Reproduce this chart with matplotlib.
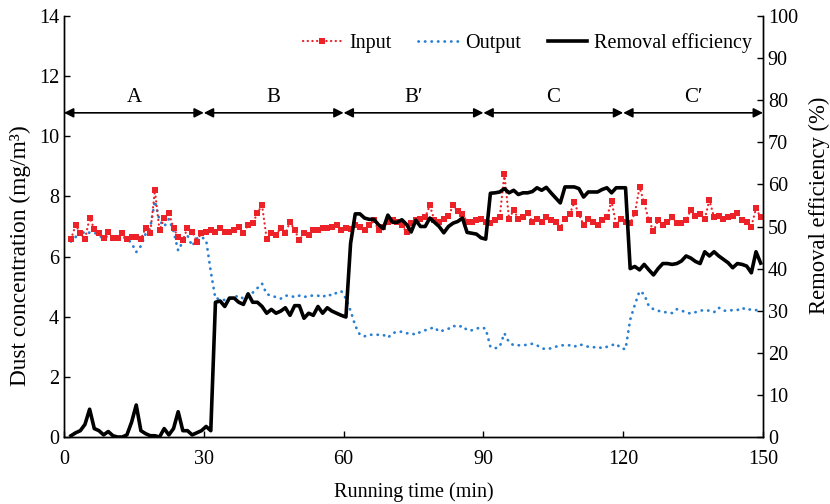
import numpy as np
import matplotlib
matplotlib.use("Agg")
import matplotlib.pyplot as plt
from matplotlib.lines import Line2D

plt.rcParams['font.family'] = ['Liberation Serif', 'DejaVu Serif']

# Running time (min)
time_min = np.arange(1.5, 150, 1.0)

input_conc = [
    6.58,
    7.05, 6.77, 6.58, 7.28, 6.92, 6.77, 6.62, 6.83, 6.62, 6.62, 6.77, 6.58, 6.65, 6.65, 6.58,
    6.95, 6.77, 8.2, 6.87, 7.28, 7.45, 6.95, 6.65, 6.55, 6.95, 6.83, 6.5, 6.8, 6.83,
    6.88, 6.83, 6.95, 6.83, 6.83, 6.88, 6.99, 6.77, 7.05, 7.1, 7.45, 7.71, 6.58, 6.77, 6.72,
    6.95, 6.77, 7.15, 6.88, 6.55, 6.77, 6.72, 6.88, 6.88, 6.95, 6.95, 6.99, 7.05, 6.88, 6.95,
    6.93, 7.04, 6.98, 6.88, 7.04, 7.2, 6.88, 6.98, 7.15, 7.2, 7.15, 7.04, 6.82, 7.1, 7.2,
    7.25, 7.3, 7.7, 7.2, 7.15, 7.25, 7.35, 7.7, 7.5, 7.43, 7.15, 7.15, 7.2, 7.25, 7.15,
    7.1, 7.2, 7.3, 8.75, 7.25, 7.55, 7.25, 7.3, 7.45, 7.15, 7.25, 7.15, 7.3, 7.2, 7.15,
    6.95, 7.25, 7.4, 7.8, 7.4, 7.05, 7.25, 7.15, 7.05, 7.2, 7.3, 7.85, 7.05, 7.25, 7.15,
    7.1, 7.45, 8.3, 7.8, 7.2, 6.85, 7.2, 7.05, 7.15, 7.3, 7.1, 7.1, 7.2, 7.55, 7.35,
    7.4, 7.25, 7.88, 7.3, 7.35, 7.25, 7.3, 7.35, 7.45, 7.2, 7.15, 7.0, 7.6, 7.3,
]

output_conc = [
    6.5, 6.65, 6.9, 6.75, 6.8, 6.8, 6.7, 6.6, 6.7, 6.6, 6.6, 6.65, 6.6, 6.45, 6.15,
    6.35, 6.75, 6.95, 7.85, 7.2, 7.0, 7.25, 6.85, 6.2, 6.5, 6.7, 6.35, 6.6, 6.65, 6.55,
    5.5, 4.6, 4.6, 4.55, 4.6, 4.65, 4.7, 4.6, 4.75, 4.8, 4.95, 5.1, 4.75, 4.7, 4.65,
    4.6, 4.7, 4.7, 4.65, 4.7, 4.65, 4.7, 4.7, 4.7, 4.65, 4.75, 4.7, 4.8, 4.85, 4.6,
    4.2, 3.7, 3.4, 3.35, 3.4, 3.4, 3.4, 3.4, 3.3, 3.45, 3.5, 3.5, 3.45, 3.45, 3.4,
    3.5, 3.55, 3.6, 3.65, 3.5, 3.55, 3.6, 3.7, 3.65, 3.7, 3.55, 3.55, 3.6, 3.65, 3.6,
    3.0, 2.95, 3.0, 3.45, 3.15, 3.05, 3.05, 3.05, 3.07, 3.1, 3.05, 2.95, 2.92, 2.95, 3.0,
    3.05, 3.05, 3.05, 3.0, 3.08, 3.05, 3.0, 2.98, 3.0, 2.95, 3.0, 3.05, 3.1, 2.95, 2.92,
    3.9, 4.4, 4.85, 4.75, 4.35, 4.25, 4.2, 4.15, 4.15, 4.12, 4.25, 4.2, 4.15, 4.1, 4.15,
    4.2, 4.22, 4.2, 4.15, 4.3, 4.2, 4.2, 4.22, 4.22, 4.3, 4.22, 4.25, 4.22, 4.22,
]

removal_eff = [
    0.3, 1, 1.5, 3, 6.6, 2, 1.5, 0.5, 1.3, 0.3, 0, 0, 0.5, 3.5, 7.6, 1.5,
    0.8, 0.3, 0.3, 0, 2, 0.5, 2, 6, 1.5, 1.5, 0.5, 1, 1.5, 2.5, 1.5,
    32, 32.3, 31, 33, 33, 32, 31.5, 34, 32, 32, 31, 29.4, 30.3, 29.4,
    29.9, 30.7, 28.9, 31.2, 31.2, 28.2, 29.4, 28.9, 31, 29.4, 30.7, 29.9, 29.4, 28.9, 28.5,
    46, 53, 53, 52, 51.7, 51.7, 50.4, 49.5, 52.7, 51, 51, 51.6, 50.5, 48.7, 51.5,
    50, 50, 52, 51, 50, 48.5, 50, 50.8, 51.2, 52, 48.6, 48.4, 48.2, 47.3, 47,
    57.9, 58, 58.2, 59, 58, 58.6, 57.6, 58, 58, 58.3, 59.2, 58.6, 59.3, 58, 56.8,
    55.6, 59.4, 59.4, 59.4, 59, 57, 58.2, 58.2, 58.2, 58.8, 59.2, 58, 59.2, 59.2, 59.2,
    40, 40.5, 39.7, 41, 39.7, 38.5, 40, 41.2, 41.2, 41, 41.2, 41.8, 43, 42.5, 41.7,
    41.2, 44, 43, 44, 43, 42.2, 41.4, 40.2, 41.2, 41, 40.6, 39, 44, 41.3,
]

stage_bounds = [0, 30, 60, 90, 120, 150]
stage_labels = ["A", "B", "B\u2032", "C", "C\u2032"]

RED = "#ec2228"
BLUE = "#2a7fd0"

fig = plt.figure(figsize=(8.3, 5.04), dpi=100)
ax = fig.add_axes([64 / 830, 1 - 437 / 504, (763 - 64) / 830, (437 - 16) / 504])
ax2 = ax.twinx()

ax.plot(time_min, input_conc, color=RED, lw=1.6, linestyle=(0, (0.1, 2.0)),
        dash_capstyle='round', marker='s', markersize=5.0, markeredgewidth=0,
        zorder=3)
ax.plot(time_min, output_conc, color=BLUE, lw=2.0, linestyle=(0, (0.1, 2.25)),
        dash_capstyle='round', zorder=2)
ax2.plot(time_min, removal_eff, color='black', lw=2.6, zorder=4)

ax.set_xlim(0, 150)
ax.set_ylim(0, 14)
ax2.set_ylim(0, 100)
ax.set_xticks(np.arange(0, 151, 30))
ax.set_yticks(np.arange(0, 15, 2))
ax2.set_yticks(np.arange(0, 101, 10))

for a in (ax, ax2):
    a.tick_params(direction='in', length=4, width=1, labelsize=14.5)
    for s in a.spines.values():
        s.set_linewidth(1.0)
ax.spines['top'].set_visible(False)
ax2.spines['top'].set_visible(False)
ax.tick_params(axis='x', pad=9)

ax.set_xlabel("Running time (min)", fontsize=14.5, labelpad=10)
ax.set_ylabel("Dust concentration (mg/m\u00b3)", fontsize=16.8)
ax.yaxis.set_label_coords(-0.047, 0.43)
ax2.set_ylabel("Removal efficiency (%)", fontsize=16.3)
ax2.yaxis.set_label_coords(1.066, 0.55)

# stage arrows
arrow_y = 10.78
for i, lab in enumerate(stage_labels):
    x0, x1 = stage_bounds[i], stage_bounds[i + 1]
    ax.annotate("", xy=(x1, arrow_y), xytext=(x0, arrow_y),
                arrowprops=dict(arrowstyle='<|-|>', color='black', lw=1.2,
                                shrinkA=0, shrinkB=0, mutation_scale=14),
                zorder=5)
    ax.text((x0 + x1) / 2, arrow_y + 0.2, lab, ha='center', va='bottom',
            fontsize=15)

handles = [
    Line2D([], [], color=RED, lw=1.6, linestyle=(0, (0.1, 2.0)),
           dash_capstyle='round', marker='s', markersize=5.0,
           markeredgewidth=0, markevery=[1]),
    Line2D([], [], color=BLUE, lw=2.0, linestyle=(0, (0.1, 2.25)),
           dash_capstyle='round'),
    Line2D([], [], color='black', lw=2.6),
]
ax2.legend(handles, ["Input", "Output", "Removal efficiency"], loc='upper right',
           bbox_to_anchor=(1.009, 1.0), ncol=3, frameon=False, fontsize=14.5,
           handlelength=1.95, columnspacing=1.35, handletextpad=0.35,
           borderaxespad=0.45)

fig.savefig("out.png", dpi=100)
